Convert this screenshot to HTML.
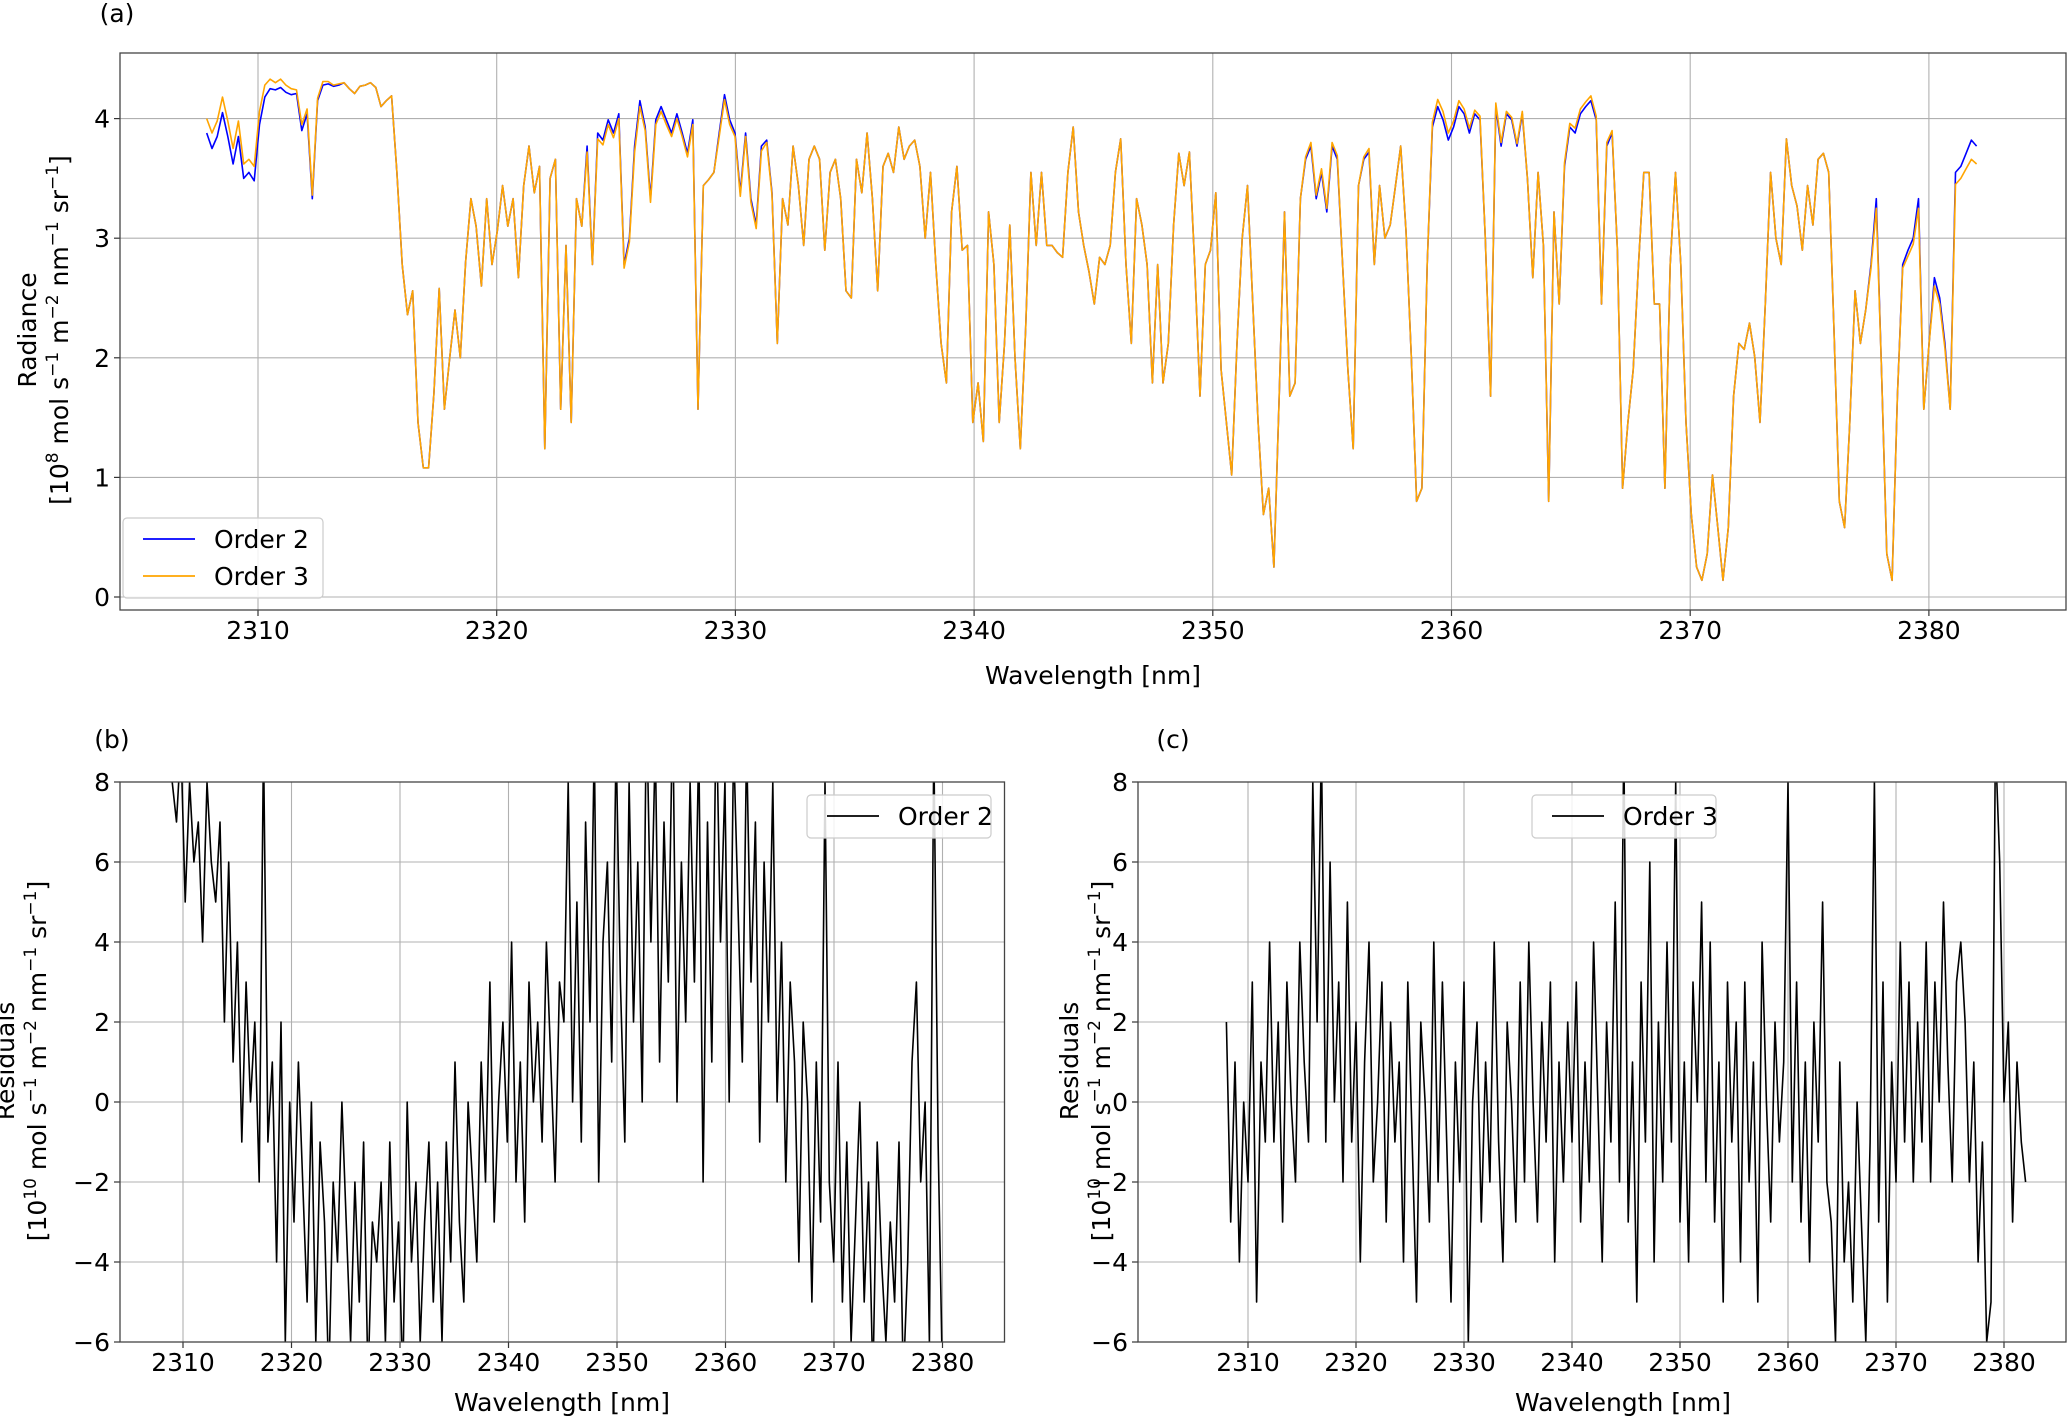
<!DOCTYPE html>
<html><head><meta charset="utf-8"><style>
html,body{margin:0;padding:0;background:#fff}
svg{display:block;font-family:"DejaVu Sans","Liberation Sans",sans-serif}
</style></head><body>
<svg id="fig" width="2067" height="1417" viewBox="0 0 2067 1417" xmlns="http://www.w3.org/2000/svg">
<defs>
<clipPath id="ca"><rect x="120" y="53" width="1946" height="557"/></clipPath>
<clipPath id="cb"><rect x="120" y="782" width="884.5" height="560"/></clipPath>
<clipPath id="cc"><rect x="1138" y="782" width="928" height="560"/></clipPath>
</defs>
<g id="layer"></g>
</svg>
<script>
const order2 = [3.88,3.75,3.85,4.05,3.85,3.62,3.85,3.50,3.55,3.48,3.95,4.18,4.25,4.24,4.26,4.22,4.20,4.21,3.90,4.04,3.33,4.15,4.28,4.29,4.27,4.28,4.30,4.25,4.21,4.27,4.28,4.30,4.26,4.10,4.15,4.19,
3.55,2.78,2.36,2.56,1.46,1.08,1.08,1.7,2.58,1.57,2.0,2.4,2.0,2.8,3.33,3.1,2.6,3.33,2.78,3.06,3.44,3.1,3.33,2.67,3.44,3.77,3.38,3.6,1.24,3.5,3.66,1.57,2.94,1.46,3.33,3.1,3.77,2.78,3.88,3.82,3.99,3.88,4.04,2.78,3.0,3.77,4.15,3.93,3.33,3.99,4.10,3.99,3.88,4.04,3.88,3.71,3.99,1.57,3.44,3.49,3.55,3.88,
4.2,3.99,3.88,3.38,3.88,3.33,3.11,3.77,3.82,3.38,2.12,3.33,3.11,3.77,3.44,2.94,3.66,3.77,3.66,2.9,3.55,3.66,3.33,2.56,2.5,3.66,3.38,3.88,3.33,2.56,3.6,3.71,3.55,3.93,3.66,3.77,3.82,3.6,3.0,3.55,2.78,2.12,1.79,3.22,3.6,2.9,2.94,1.46,1.79,1.3,3.22,2.78,1.46,2.12,3.11,2.0,1.24,2.23,3.55,2.94,3.55,2.94,2.94,2.88,2.84,3.55,3.93,3.22,2.94,2.72,2.45,2.84,2.78,2.94,3.55,3.83,2.78,2.12,3.33,3.11,2.78,1.79,2.78,1.79,2.12,3.11,3.71,3.44,3.72,2.78,1.68,2.78,2.9,3.38,1.9,1.46,1.02,2.12,3.0,3.44,2.45,1.46,0.69,0.91,0.25,1.68,3.22,1.68,1.79,3.33,3.66,3.77,3.33,3.55,3.22,3.77,3.66,2.78,1.9,1.24,3.44,3.66,3.72,2.78,3.44,3.0,3.11,3.44,3.77,3.06,2.01,0.80,0.91,2.78,3.93,4.10,3.99,3.82,3.93,4.10,4.04,3.88,4.04,3.99,3.0,1.68,4.10,3.77,4.04,3.99,3.77,4.04,3.49,2.67,3.55,2.94,0.80,3.22,2.45,3.6,3.93,3.88,4.04,4.10,4.15,3.99,2.45,3.77,3.88,2.9,0.91,1.46,1.9,2.78,3.55,3.55,2.45,2.45,0.91,2.78,3.55,2.78,1.46,0.69,0.25,0.14,0.36,1.02,0.58,0.14,0.58,1.68,2.12,2.07,2.29,2.01,1.46,2.45,3.55,3.0,2.78,3.83,3.44,3.27,2.9,3.44,3.11,3.66,3.71,3.55,2.23,0.8,0.58,1.46,2.56,2.12,2.40,2.78,3.33,1.9,0.36,0.14,1.68,2.78,2.9,3.0,3.33,1.57,2.12,2.67,2.5,2.12,1.57,3.55,3.6,3.71,3.82,3.77];
const order3 = [4.00,3.88,3.98,4.18,3.98,3.75,3.98,3.62,3.66,3.60,4.06,4.28,4.33,4.30,4.33,4.28,4.25,4.24,3.95,4.08,3.36,4.17,4.31,4.31,4.28,4.29,4.30,4.25,4.21,4.27,4.28,4.30,4.26,4.10,4.15,4.19,
3.55,2.78,2.36,2.56,1.46,1.08,1.08,1.7,2.58,1.57,2.0,2.4,2.0,2.8,3.33,3.1,2.6,3.33,2.78,3.06,3.44,3.1,3.33,2.67,3.44,3.77,3.38,3.6,1.24,3.5,3.66,1.57,2.94,1.46,3.33,3.1,3.72,2.78,3.83,3.78,3.95,3.84,4.00,2.75,2.97,3.72,4.10,3.90,3.30,3.95,4.06,3.95,3.85,4.00,3.85,3.68,3.95,1.57,3.44,3.49,3.55,3.85,
4.16,3.95,3.85,3.35,3.85,3.30,3.08,3.73,3.80,3.36,2.12,3.33,3.11,3.77,3.44,2.94,3.66,3.77,3.66,2.9,3.55,3.66,3.33,2.56,2.5,3.66,3.38,3.88,3.33,2.56,3.6,3.71,3.55,3.93,3.66,3.77,3.82,3.6,3.0,3.55,2.78,2.12,1.79,3.22,3.6,2.9,2.94,1.46,1.79,1.3,3.22,2.78,1.46,2.12,3.11,2.0,1.24,2.23,3.55,2.94,3.55,2.94,2.94,2.88,2.84,3.55,3.93,3.22,2.94,2.72,2.45,2.84,2.78,2.94,3.55,3.83,2.78,2.12,3.33,3.11,2.78,1.79,2.78,1.79,2.12,3.11,3.71,3.44,3.72,2.78,1.68,2.78,2.9,3.38,1.9,1.46,1.02,2.12,3.0,3.44,2.45,1.46,0.69,0.91,0.25,1.68,3.22,1.68,1.79,3.33,3.68,3.80,3.36,3.58,3.25,3.80,3.69,2.78,1.9,1.24,3.44,3.68,3.75,2.78,3.44,3.0,3.11,3.44,3.77,3.06,2.01,0.80,0.91,2.78,3.97,4.16,4.06,3.88,3.98,4.15,4.08,3.92,4.07,4.02,3.0,1.68,4.13,3.80,4.06,4.01,3.79,4.06,3.49,2.67,3.55,2.94,0.80,3.22,2.45,3.63,3.96,3.92,4.08,4.14,4.19,4.02,2.45,3.80,3.90,2.9,0.91,1.46,1.9,2.78,3.55,3.55,2.45,2.45,0.91,2.78,3.55,2.78,1.46,0.69,0.25,0.14,0.36,1.02,0.58,0.14,0.58,1.68,2.12,2.07,2.29,2.01,1.46,2.45,3.55,3.0,2.78,3.83,3.44,3.27,2.9,3.44,3.11,3.66,3.71,3.55,2.23,0.8,0.58,1.46,2.56,2.12,2.40,2.75,3.25,1.9,0.36,0.14,1.68,2.75,2.85,2.95,3.25,1.57,2.12,2.6,2.45,2.08,1.57,3.45,3.5,3.58,3.66,3.62];
const radWlStart = 2307.85, radWlEnd = 2382.0;
const resid2 = [8,7,9,5,8,6,7,4,8,6, 5,7,2,6,1,4,-1,3,0,2, -2,9,-1,1,-4,2,-6,0,-3,1, -2,-5,0,-6,-1,-3,-7,-2,-4,0,
-3,-6,-2,-5,-1,-7,-3,-4,-2,-6, -1,-5,-3,-7,0,-4,-2,-6,-3,-1, -5,-2,-6,-1,-4,1,-3,-5,0,-2, -4,1,-2,3,-3,0,2,-1,4,-2,
1,-3,3,0,2,-1,4,1,-2,3, 2,8,0,5,-1,7,2,9,-2,4, 6,1,9,3,-1,8,2,6,0,10, 4,9,1,7,3,10,0,6,2,8, 3,9,-2,7,1,10,4,8,0,9,
5,1,9,3,7,-1,6,2,8,0, 4,-2,3,1,-4,2,0,-5,1,-3, 8,-2,-4,1,-5,-1,-6,-3,0,-5, -2,-7,-1,-4,-6,-3,-5,-1,-7,-4, 1,3,-2,0,-6,9,-1,-7];
const resid2Start = 2309.0, resid2End = 2380.0;
const resid3 = [2,-3,1,-4,0,-2,3,-5,1,-1, 4,-1,2,-3,3,0,-2,4,1,-1, 8,2,9,-1,6,0,3,-2,5,-1, 2,-4,1,4,-2,0,3,-3,2,-1,
1,-4,3,-1,-5,2,0,-3,4,-2, 3,-1,-5,1,-2,3,-6,0,2,-3, 1,-2,4,-1,-4,2,0,-3,3,-2, 4,0,-3,2,-1,3,-4,1,-2,2,
-1,3,-3,1,-2,4,0,-4,2,-1, 5,-2,9,-3,1,-5,3,-1,6,-4, 2,-2,4,-1,8,-3,1,-4,3,0, 5,-2,4,-3,1,-5,3,-1,2,-4,
3,-2,1,-5,4,0,-3,2,-1,1, 8,-2,3,-3,1,-4,2,-1,5,-2, -3,-6,1,-4,-2,-5,0,-3,-6,-1, 8,-3,3,-5,1,-2,4,-1,3,-2,
2,-1,4,-2,3,0,5,1,-2,3, 4,2,-2,1,-4,-1,-6,-5,9,6, 0,2,-3,1,-1,-2];
const resid3Start = 2308.0, resid3End = 2382.0;
const xTicks = [2310,2320,2330,2340,2350,2360,2370,2380];
const radTicks = [0,1,2,3,4];
const resTicks = [-6,-4,-2,0,2,4,6,8];

const NS='http://www.w3.org/2000/svg';
const L=document.getElementById('layer');
function mk(tag,attrs,parent){const e=document.createElementNS(NS,tag);for(const k in attrs)e.setAttribute(k,attrs[k]);(parent||L).appendChild(e);return e;}
function txt(s,x,y,opt,parent){const e=mk('text',Object.assign({x:x,y:y,'font-size':25,fill:'#000'},opt||{}),parent);e.textContent=s;return e;}

const panels=[
 {id:'a',l:120,r:2066,t:53,b:610,x0:258,xs:23.87,y0:597,ys:119.6,yt:radTicks,clip:'ca'},
 {id:'b',l:120,r:1004.5,t:782,b:1342,x0:183,xs:10.85,y0:1342-6*40,ys:40,yt:resTicks,clip:'cb'},
 {id:'c',l:1138,r:2066,t:782,b:1342,x0:1248,xs:10.8,y0:1342-6*40,ys:40,yt:resTicks,clip:'cc'}
];
function X(p,v){return p.x0+(v-2310)*p.xs;}
function Y(p,v){return p.y0-v*p.ys;}

panels.forEach(p=>{
  const g=mk('g',{});
  
  
  mk('rect',{x:p.l,y:p.t,width:p.r-p.l,height:p.b-p.t,fill:'#fff'},g);
  xTicks.forEach(t=>{const x=X(p,t);if(x<p.l||x>p.r)return;
    const gl=mk('line',{x1:x,x2:x,y1:p.t,y2:p.b,stroke:'#b0b0b0','stroke-width':1.1},g);
    
    
    mk('line',{x1:x,x2:x,y1:p.b,y2:p.b+6,stroke:'#333','stroke-width':1.2},g);
    const tl=txt(String(t),x,p.b+29,{'text-anchor':'middle'},g);
    
    
  });
  p.yt.forEach(t=>{const y=Y(p,t);
    const gl=mk('line',{x1:p.l,x2:p.r,y1:y,y2:y,stroke:'#b0b0b0','stroke-width':1.1},g);
    
    
    mk('line',{x1:p.l-6,x2:p.l,y1:y,y2:y,stroke:'#333','stroke-width':1.2},g);
    const lab=(t<0?'\u2212'+(-t):String(t));
    const tl=txt(lab,p.l-10,y+9,{'text-anchor':'end'},g);
    
    
  });
  p.g=g;
});

function series(p,vals,start,end,color,name){
  const n=vals.length;let d='';
  vals.forEach((v,i)=>{const wl=start+(end-start)*i/(n-1);d+=(i?'L':'M')+X(p,wl).toFixed(1)+' '+Y(p,v).toFixed(1);});
  const e=mk('path',{d:d,fill:'none',stroke:color,'stroke-width':1.6,'stroke-linejoin':'round','clip-path':'url(#'+p.clip+')'},p.g);
  
  
}
series(panels[0],order2,radWlStart,radWlEnd,'#0000ff','order-2-line');
series(panels[0],order3,radWlStart,radWlEnd,'#ffa500','order-3-line');
series(panels[1],resid2,resid2Start,resid2End,'#000','residual-order-2-line');
series(panels[2],resid3,resid3Start,resid3End,'#000','residual-order-3-line');

panels.forEach(p=>{
  const f=mk('rect',{x:p.l,y:p.t,width:p.r-p.l,height:p.b-p.t,fill:'none',stroke:'#444','stroke-width':1.3},p.g);
  
  
});

function legend(x,y,w,h,items,name){
  const g=mk('g',{});
  
  
  mk('rect',{x:x,y:y,width:w,height:h,rx:4,fill:'#fff','fill-opacity':0.85,stroke:'#ccc','stroke-width':1.2},g);
  items.forEach((it,i)=>{const cy=y+21+i*37;
    mk('line',{x1:x+20,x2:x+72,y1:cy,y2:cy,stroke:it[1],'stroke-width':1.8},g);
    const t=txt(it[0],x+91,cy+9,{},g);
    
    
  });
}
legend(123,518,200,80,[['Order 2','#0000ff'],['Order 3','#ffa500']],'legend-a');
legend(807,795,184,43,[['Order 2','#000']],'legend-b');
legend(1532,795,184,43,[['Order 3','#000']],'legend-c');

const labs=[
 ['(a)',117,22,{'text-anchor':'middle'},'panel-label-a'],
 ['(b)',112,748,{'text-anchor':'middle'},'panel-label-b'],
 ['(c)',1173,748,{'text-anchor':'middle'},'panel-label-c'],
 ['Wavelength [nm]',1093,684,{'text-anchor':'middle'},'x-axis-title-a'],
 ['Wavelength [nm]',562,1411,{'text-anchor':'middle'},'x-axis-title-b'],
 ['Wavelength [nm]',1623,1411,{'text-anchor':'middle'},'x-axis-title-c']
];
labs.forEach(a=>{const t=txt(a[0],a[1],a[2],a[3]);
  
  });

function ylab(cx,cy,l1,unitExp,name){
  const g=mk('g',{transform:'translate('+cx+','+cy+') rotate(-90)'});
  
  
  txt(l1,0,-6,{'text-anchor':'middle'},g);
  const t2=mk('text',{x:0,y:26,'font-size':25,'text-anchor':'middle'},g);
  t2.innerHTML='[10<tspan dy="-10" font-size="17">'+unitExp+'</tspan><tspan dy="10"> mol s</tspan><tspan dy="-10" font-size="17">\u22121</tspan><tspan dy="10"> m</tspan><tspan dy="-10" font-size="17">\u22122</tspan><tspan dy="10"> nm</tspan><tspan dy="-10" font-size="17">\u22121</tspan><tspan dy="10"> sr</tspan><tspan dy="-10" font-size="17">\u22121</tspan><tspan dy="10">]</tspan>';
}
ylab(42,330,'Radiance','8','y-axis-title-a');
ylab(20,1061,'Residuals','10','y-axis-title-b');
ylab(1084,1061,'Residuals','10','y-axis-title-c');
</script>
</body></html>
